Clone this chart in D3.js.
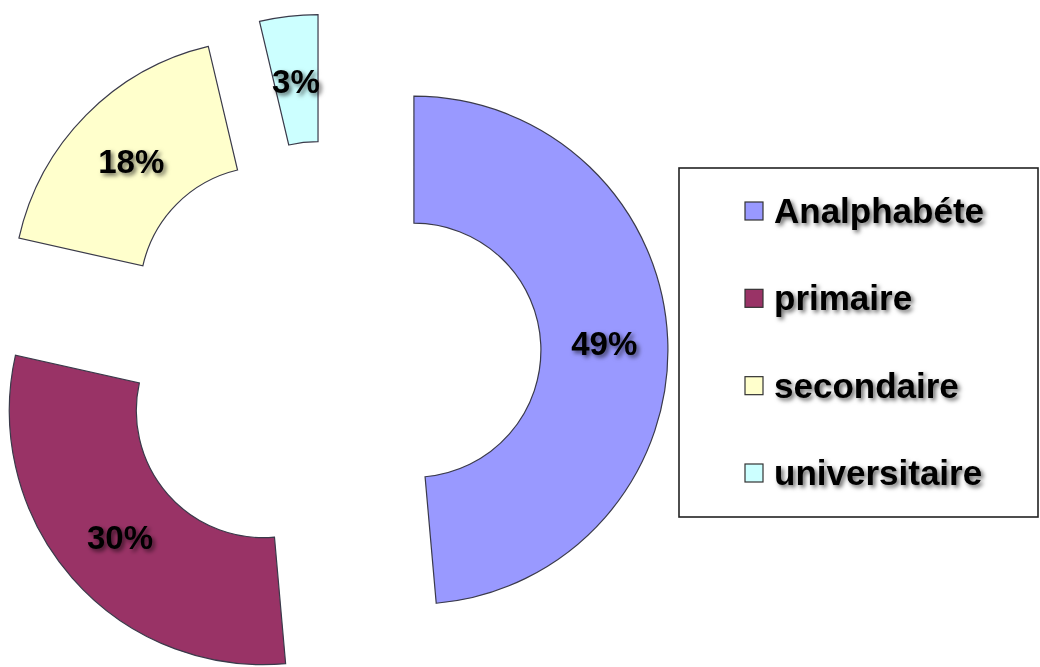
<!DOCTYPE html>
<html>
<head>
<meta charset="utf-8">
<script src="https://cdn.jsdelivr.net/npm/d3@7"></script>
<style>
  body { margin: 0; background: #fff; }
  text { font-family: "Liberation Sans", Arial, sans-serif; font-weight: bold; }
</style>
</head>
<body>
<div id="chart"></div>
<script>
// data
var categories = ["Analphabéte", "primaire", "secondaire", "universitaire"];
var values = [48.6, 29.9, 17.8, 3.7];
var labels = ["49%", "30%", "18%", "3%"];
var colors = ["#9999FF", "#993366", "#FFFFCC", "#CCFFFF"];

var svgWidth = 1040;
var svgHeight = 667;

var center = {x: 328, y: 354};
var outerR = 254;
var innerR = 127;
var explode = 86;

var svg = d3.select("#chart")
  .append("svg")
  .attr("width", svgWidth)
  .attr("height", svgHeight);

// soft drop shadow for the texts
var defs = svg.append("defs");
var filter = defs.append("filter")
  .attr("id", "shadow")
  .attr("x", "-20%").attr("y", "-30%")
  .attr("width", "140%").attr("height", "160%");
filter.append("feDropShadow")
  .attr("dx", 2.5)
  .attr("dy", 2.5)
  .attr("stdDeviation", 2)
  .attr("flood-color", "#000")
  .attr("flood-opacity", 0.6);

var data = categories.map(function(c, i) {
  return {name: c, value: values[i], label: labels[i], color: colors[i]};
});

var pie = d3.pie()
  .sort(null)
  .value(d => d.value);

var arc = d3.arc()
  .innerRadius(innerR)
  .outerRadius(outerR);

var chartGroup = svg.append("g")
  .attr("transform", `translate(${center.x}, ${center.y})`);

// each slice pushed out along its middle angle
function offset(d) {
  var mid = (d.startAngle + d.endAngle) / 2;
  return [explode * Math.sin(mid), -explode * Math.cos(mid)];
}

var slices = chartGroup.selectAll("g.slice")
  .data(pie(data))
  .enter()
  .append("g")
  .attr("class", "slice")
  .attr("transform", d => `translate(${offset(d)[0]}, ${offset(d)[1]})`);

slices.append("path")
  .attr("d", arc)
  .attr("fill", d => d.data.color)
  .attr("stroke", "#3a3a4a")
  .attr("stroke-width", 1.2);

slices.append("text")
  .attr("transform", d => `translate(${arc.centroid(d)})`)
  .attr("text-anchor", "middle")
  .attr("dy", "0.4em")
  .attr("font-size", 33)
  .attr("fill", "#000")
  .attr("filter", "url(#shadow)")
  .text(d => d.data.label);

// legend
var legend = svg.append("g");

legend.append("rect")
  .attr("x", 679)
  .attr("y", 168)
  .attr("width", 359)
  .attr("height", 349)
  .attr("fill", "#fff")
  .attr("stroke", "#222")
  .attr("stroke-width", 1.6);

var legendY = d3.scalePoint()
  .domain(categories)
  .range([211, 473]);

var items = legend.selectAll("g.item")
  .data(data)
  .enter()
  .append("g")
  .attr("class", "item")
  .attr("transform", d => `translate(745, ${legendY(d.name)})`);

items.append("rect")
  .attr("x", 0)
  .attr("y", -9)
  .attr("width", 18)
  .attr("height", 18)
  .attr("fill", d => d.color)
  .attr("stroke", "#333")
  .attr("stroke-width", 1.2);

items.append("text")
  .attr("x", 29)
  .attr("y", 12)
  .attr("font-size", 35)
  .attr("fill", "#000")
  .attr("filter", "url(#shadow)")
  .text(d => d.name);
</script>
</body>
</html>
